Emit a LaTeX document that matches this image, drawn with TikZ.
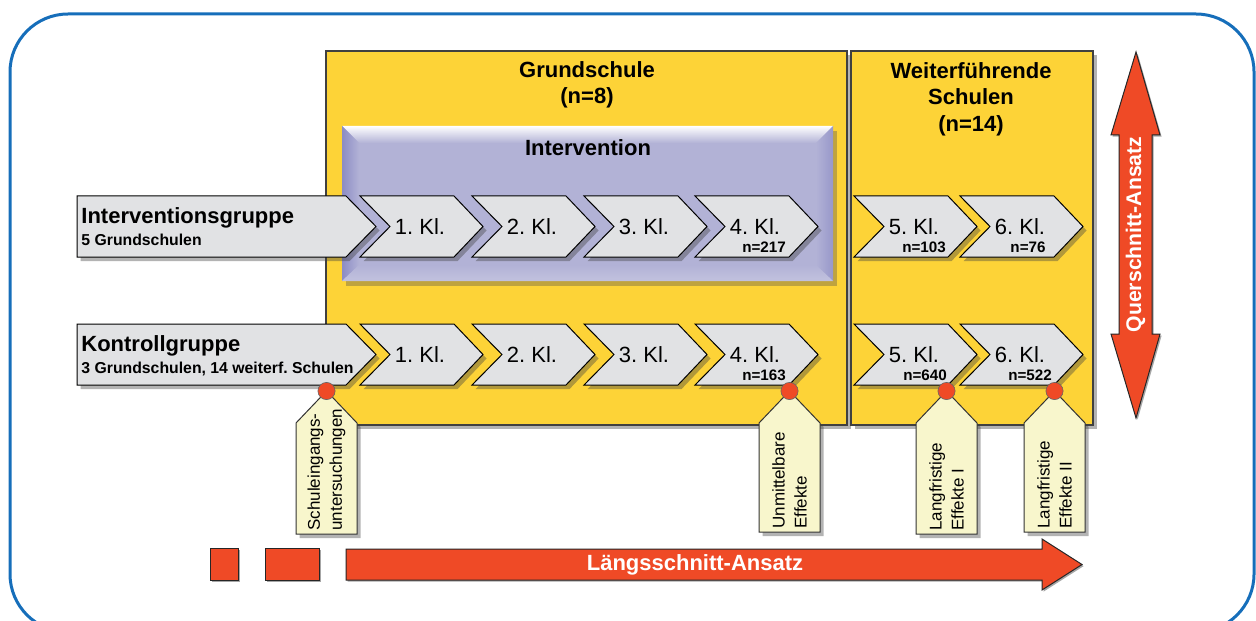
\documentclass[tikz,border=0pt]{standalone}
\usepackage{fontspec}
\setmainfont{Liberation Sans}
\usetikzlibrary{shadows}
\frenchspacing

\definecolor{schoolyellow}{RGB}{253,211,55}
\definecolor{chevgray}{RGB}{225,226,228}
\definecolor{accentred}{RGB}{239,74,38}
\definecolor{lavender}{RGB}{178,178,214}
\definecolor{lavdark}{RGB}{140,140,196}
\definecolor{tagyellow}{RGB}{248,246,204}
\definecolor{frameblue}{RGB}{22,110,186}

\tikzset{
  softshadow/.style={drop shadow={shadow xshift=1.8pt, shadow yshift=-2pt, opacity=0.4, fill=black!75}},
  schoolbox/.style={draw=black!75, line width=0.6pt, fill=schoolyellow, softshadow},
  chevshape/.style={draw=black, line width=0.5pt, fill=chevgray, softshadow},
  chevtext/.style={inner sep=0pt, font=\fontsize{11}{13}\selectfont},
  ntext/.style={inner sep=0pt, font=\bfseries\fontsize{7.6}{9}\selectfont},
  titletext/.style={inner sep=0pt, align=center, font=\bfseries\fontsize{11}{13.2}\selectfont},
  grouptext/.style={inner sep=0pt, anchor=west, font=\bfseries\fontsize{11}{13}\selectfont},
  groupsub/.style={inner sep=0pt, anchor=west, font=\bfseries\fontsize{7.9}{9}\selectfont},
  tagshape/.style={draw=black!80, line width=0.5pt, fill=tagyellow, softshadow},
  tagtext/.style={inner sep=0pt, rotate=90, anchor=west, align=left, font=\fontsize{8.5}{11}\selectfont},
  reddot/.style={draw=black!60, line width=0.3pt, fill=accentred},
  redshape/.style={draw=black!85, line width=0.5pt, fill=accentred, drop shadow={shadow xshift=0.8pt, shadow yshift=-0.8pt, opacity=0.35, fill=black}},
  arrowtext/.style={inner sep=0pt, text=white, font=\bfseries\fontsize{11}{13}\selectfont}
}

% grade chevron: name, left x, top y, label
\newcommand{\Chev}[4]{%
  \path[chevshape] (#2,#3) -- ++(94,0) -- ++(29,30.5) -- ++(-29,30.5) -- ++(-94,0) -- ++(30,-30.5) -- cycle;
  \node[chevtext] (#1) at (#2+60,#3+31) {#4};
}

% measurement tag hanging from a dot: name, centre x, bottom y, first line, second line
\newcommand{\MeasureTag}[5]{%
  \path[tagshape] (#2,391) -- (#2+30.5,423) -- (#2+30.5,#3) -- (#2-30.5,#3) -- (#2-30.5,423) -- cycle;
  \node[tagtext] (#1) at (#2,#3-3) {#4\\#5};
  \path[reddot] (#2,391) circle[radius=4.3pt];
}

\begin{document}
\begin{tikzpicture}[x=0.5pt,y=-0.5pt]
\useasboundingbox (0,0) rectangle (1256,620);
\begin{scope}
\clip (0,0) rectangle (1256,620);

% outer frame
\draw[frameblue, line width=1.5pt, rounded corners=29pt] (10,14) rectangle (1254,632);

% school-type panels
\path[schoolbox] (326,51) rectangle (847,425);
\path[schoolbox] (851,51) rectangle (1093,425);
\node[titletext] (gs) at (587,85) {Grundschule\\(n=8)};
\node[titletext] (ws) at (971,99) {Weiterführende\\Schulen\\(n=14)};

% intervention panel with bevelled edges
\path[fill=lavender, drop shadow={shadow xshift=2pt, shadow yshift=-2.5pt, opacity=0.35, fill=black!70}] (342,126) rectangle (833,281);
\shade[top color=white, bottom color=lavender] (342,126) -- (833,126) -- (816,143) -- (359,143) -- cycle;
\shade[left color=lavdark, right color=lavender] (342,126) -- (359,143) -- (359,265) -- (342,281) -- cycle;
\shade[left color=lavender, right color=lavdark!70!lavender] (833,126) -- (816,143) -- (816,265) -- (833,281) -- cycle;
\shade[top color=lavender, bottom color=lavender!80!white] (342,281) -- (359,265) -- (816,265) -- (833,281) -- cycle;
\node[titletext] (iv) at (588,148) {Intervention};

% group arrows
\path[chevshape] (77,196) -- (346,196) -- (376,226.5) -- (346,257) -- (77,257) -- cycle;
\node[grouptext] (ig) at (81,218) {Interventionsgruppe};
\node[groupsub] (igs) at (81,240) {5 Grundschulen};

\path[chevshape] (77,324) -- (346,324) -- (376,354.5) -- (346,385) -- (77,385) -- cycle;
\node[grouptext] (kg) at (81,346) {Kontrollgruppe};
\node[groupsub] (kgs) at (81,369) {3 Grundschulen, 14 weiterf. Schulen};

% grade chevrons, intervention group
\Chev{ia}{360}{196}{1. Kl.}
\Chev{ib}{472}{196}{2. Kl.}
\Chev{ic}{584}{196}{3. Kl.}
\Chev{id}{695}{196}{4. Kl.}
\Chev{ie}{854}{196}{5. Kl.}
\Chev{if}{960}{196}{6. Kl.}
\node[ntext] (idn) at (764,247) {n=217};
\node[ntext] (ien) at (924,247) {n=103};
\node[ntext] (ifn) at (1028,247) {n=76};

% grade chevrons, control group
\Chev{ka}{360}{324}{1. Kl.}
\Chev{kb}{472}{324}{2. Kl.}
\Chev{kc}{584}{324}{3. Kl.}
\Chev{kd}{695}{324}{4. Kl.}
\Chev{ke}{854}{324}{5. Kl.}
\Chev{kf}{960}{324}{6. Kl.}
\node[ntext] (kdn) at (764,375) {n=163};
\node[ntext] (ken) at (925,375) {n=640};
\node[ntext] (kfn) at (1030,375) {n=522};

% measurement points
\MeasureTag{tsu}{326.5}{534}{Schuleingangs-}{untersuchungen}
\MeasureTag{tue}{789.5}{532}{Unmittelbare}{Effekte}
\MeasureTag{tl1}{946.5}{534}{Langfristige}{Effekte I}
\MeasureTag{tl2}{1054.5}{532}{Langfristige}{Effekte II}

% longitudinal arrow
\path[redshape] (210,548) rectangle (238,580);
\path[redshape] (265,548) rectangle (319,580);
\path[redshape] (346,549) -- (1042,549) -- (1042,539) -- (1082,564.5) -- (1042,590) -- (1042,580) -- (346,580) -- cycle;
\node[arrowtext] (ls) at (695,565) {Längsschnitt-Ansatz};

% cross-sectional arrow
\path[redshape] (1136,52) -- (1160,135) -- (1152,135) -- (1152,334) -- (1160,334) -- (1136,418) -- (1111,334) -- (1119,334) -- (1119,135) -- (1111,135) -- cycle;
\node[arrowtext, rotate=90, font=\bfseries\fontsize{10.6}{12}\selectfont] (qs) at (1135.5,234.5) {Querschnitt-Ansatz};
\end{scope}
\end{tikzpicture}
\end{document}
